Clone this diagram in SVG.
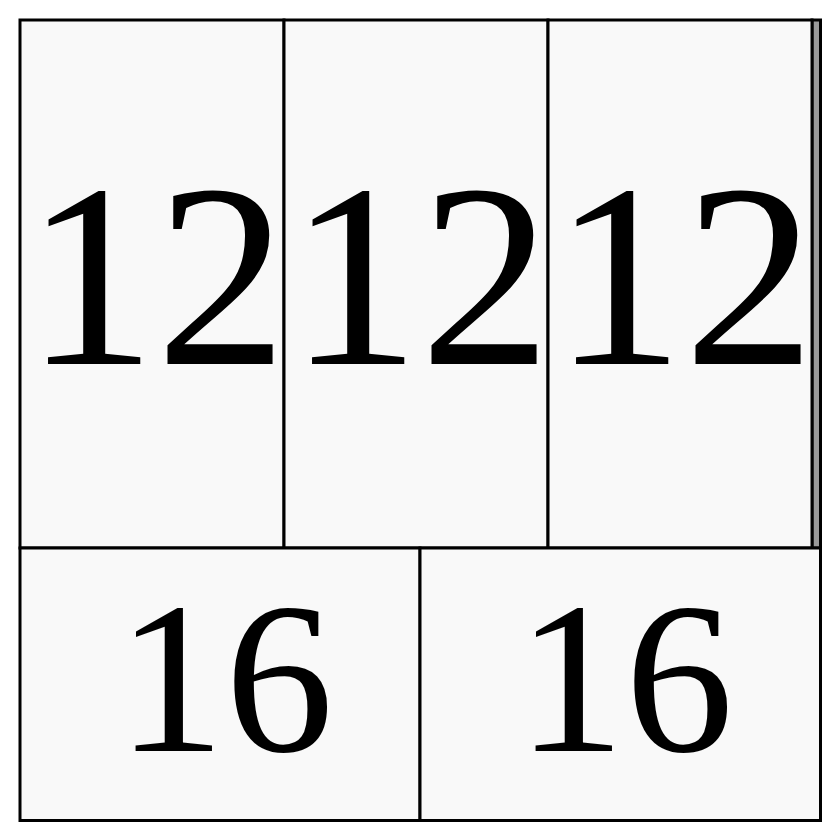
<svg xmlns="http://www.w3.org/2000/svg" width="840" height="840" viewBox="0 0 840 840">
<style>
.cell{fill:#f9f9f9;stroke:#000;stroke-width:3}
.strip{fill:#999;stroke:#000;stroke-width:3}
.big{font-family:"Liberation Serif","Times New Roman",serif;font-size:262px;text-anchor:middle;fill:#000}
.mid{font-family:"Liberation Serif","Times New Roman",serif;font-size:217px;text-anchor:middle;fill:#000}
</style>
<rect width="840" height="840" fill="#fff"/>
<g id="strip"><rect class="strip" x="812" y="20" width="8.5" height="528"/></g>
<g id="n1"><rect class="cell" x="20" y="20" width="264" height="528"/><text class="big" x="156" y="364">12</text></g>
<g id="n2"><rect class="cell" x="284" y="20" width="264" height="528"/><text class="big" x="420" y="364">12</text></g>
<g id="n3"><rect class="cell" x="548" y="20" width="264" height="528"/><text class="big" x="684" y="364">12</text></g>
<g id="n4"><rect class="cell" x="20" y="548" width="400" height="272.5"/><text class="mid" x="225" y="751">16</text></g>
<g id="n5"><rect class="cell" x="420" y="548" width="400.5" height="272.5"/><text class="mid" x="625" y="751">16</text></g>
<g id="connectors"></g>
</svg>
